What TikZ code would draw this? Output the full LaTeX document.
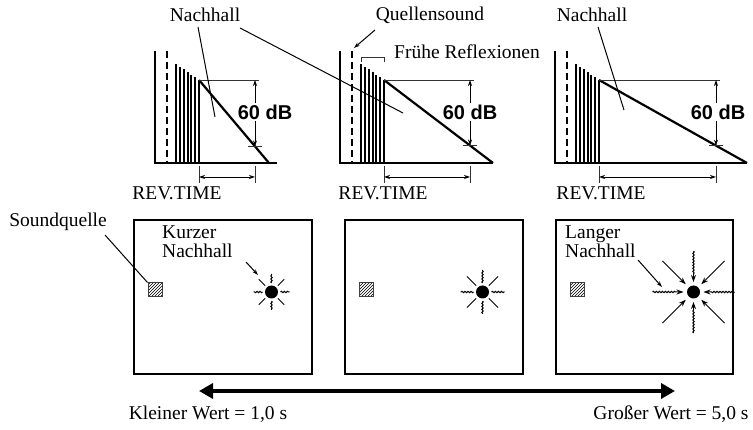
\documentclass[tikz,border=0pt]{standalone}
\usepackage{fontspec}
\setmainfont{Liberation Serif}
\setsansfont{Liberation Sans}
\usetikzlibrary{positioning, arrows.meta, patterns, calc, decorations.pathmorphing}
\tikzset{
    lbl/.style={font=\fontsize{19.5}{19}\selectfont, inner sep=0pt, align=left},
    dblbl/.style={font=\fontsize{20}{20}\selectfont\sffamily\bfseries, fill=white, inner sep=2pt},
    leader/.style={line width=1pt},
    axisline/.style={line width=1.2pt},
    dashline/.style={line width=1.6pt, dash pattern=on 7pt off 4pt},
    barline/.style={line width=2pt},
    decayline/.style={line width=2.2pt},
    thinline/.style={line width=0.8pt, color=black!80},
    dimarr/.style={{Stealth[length=6pt,width=4pt]}-{Stealth[length=6pt,width=4pt]}, line width=0.8pt},
    ptrarr/.style={-{Stealth[length=6pt,width=4pt]}, line width=1pt},
    room/.style={draw, line width=1.9pt, anchor=north west, minimum height=154pt, inner sep=0pt},
    srcbox/.style={draw=black!75, line width=1pt, pattern=north east lines, minimum width=14pt, minimum height=14pt, inner sep=0pt},
    sink/.style={circle, fill=black, minimum size=13pt, inner sep=0pt},
    ray/.style={line width=1pt},
    wavy/.style={line width=1pt, decorate, decoration={snake, amplitude=0.7pt, segment length=3pt}},
    wavyarr/.style={-{Stealth[length=7pt,width=5pt]}, line width=1pt, decorate, decoration={snake, amplitude=0.7pt, segment length=3pt, post length=7pt}},
    inarr/.style={-{Stealth[length=7pt,width=5pt]}, line width=1pt},
    bigarr/.style={{Triangle[length=14pt,width=15pt]}-{Triangle[length=14pt,width=15pt]}, line width=3.5pt}
}

\begin{document}
\begin{tikzpicture}[x=1pt, y=-1pt]
    \useasboundingbox (0,0) rectangle (753,430);

    % decay graphs
    \foreach \g/\L/\E/\R/\M/\T/\X in {1/199/269/277/255/265/177, 2/384/493/493/470/470/383, 3/599/747/747/716/718/601} {
        \pgfmathsetmacro\yb{80+(\M-\L)*83/(\E-\L)}
        \draw[axisline] (\L-44,51) -- (\L-44,163) -- (\R,163);
        \draw[dashline] (\L-32,51) -- (\L-32,163);
        \foreach \k in {0,...,6}
            \draw[barline] ({\L-23+\k*23/6},163) -- ({\L-23+\k*23/6},{64+\k*16/6});
        \draw[decayline] (\L,80) -- (\E,163);
        \draw[thinline] (\L,80) -- (\M+4,80);
        \draw[dimarr] (\M,80) -- (\M,\yb);
        \draw[thinline] (\M-7,\yb) -- (\M+7,\yb);
        \node[dblbl] (db\g) at (\T,112) {60 dB};
        \draw[thinline] (\L,166) -- (\L,183);
        \draw[thinline] (\M,166) -- (\M,183);
        \draw[dimarr] (\L,177) -- (\M,177);
        \node[lbl, anchor=base] (rt\g) at (\X,199.5) {REV.TIME};
    }

    \node[lbl, anchor=base] (nh1) at (205,21.5) {Nachhall};
    \coordinate (nh1a) at (198,27);
    \coordinate (nh1b) at (215,117);
    \coordinate (nh1c) at (240,28);
    \coordinate (nh1d) at (403,113);
    \draw[leader] (nh1a) -- (nh1b);
    \draw[leader] (nh1c) -- (nh1d);

    \node[lbl, anchor=base] (qs) at (430,20.5) {Quellensound};
    \coordinate (qsa) at (375,30);
    \coordinate (qsb) at (354,48);
    \draw[ptrarr] (qsa) -- (qsb);

    \node[lbl, anchor=base] (fr) at (467,58.5) {Frühe Reflexionen};
    \draw[thinline] (361,62) -- (361,57) -- (384,57) -- (384,62);

    \node[lbl, anchor=base] (nh3) at (592,21.5) {Nachhall};
    \coordinate (nh3a) at (598,27);
    \coordinate (nh3b) at (624,110);
    \draw[leader] (nh3a) -- (nh3b);

    % rooms
    \foreach \r/\x/\w in {1/133/178, 2/344/178, 3/555/177} {
        \node[room, minimum width=\w pt] (room\r) at (\x,219) {};
        \node[srcbox] (src\r) at (\x+22,290) {};
        \node[sink] (snk\r) at (\x+138.5,292) {};
    }

    \foreach \a in {0,90,180,270} {
        \draw[wavy] ($(snk1)+(\a:9)$) -- ($(snk1)+(\a:18)$);
        \draw[wavy] ($(snk2)+(\a:9)$) -- ($(snk2)+(\a:22)$);
        \draw[wavyarr] ($(snk3)+(\a:41)$) -- ($(snk3)+(\a:10)$);
    }
    \foreach \a in {45,135,225,315} {
        \draw[ray] ($(snk1)+(\a:9)$) -- ($(snk1)+(\a:18)$);
        \draw[ray] ($(snk2)+(\a:9)$) -- ($(snk2)+(\a:22)$);
        \draw[inarr] ($(snk3)+(\a:44)$) -- ($(snk3)+(\a:11)$);
    }

    \node[lbl, anchor=base] (sq) at (58,226.5) {Soundquelle};
    \coordinate (sqa) at (105,235);
    \draw[leader] (sqa) -- (src1.north west);

    \node[lbl, anchor=north west] (kn) at (162,226) {Kurzer\\Nachhall};
    \coordinate (kna) at (246,262);
    \coordinate (knb) at (258,275);
    \draw[ptrarr] (kna) -- (knb);

    \node[lbl, anchor=north west] (ln) at (565,226) {Langer\\Nachhall};
    \coordinate (lna) at (638,260);
    \coordinate (lnb) at (662,287);
    \draw[ptrarr] (lna) -- (lnb);

    % value scale
    \coordinate (lo) at (199,391);
    \coordinate (hi) at (675,391);
    \draw[bigarr] (lo) -- (hi);
    \node[lbl, anchor=base] (klein) at (208,419.5) {Kleiner Wert = 1,0 s};
    \node[lbl, anchor=base] (gross) at (671,419.5) {Großer Wert = 5,0 s};
\end{tikzpicture}
\end{document}
